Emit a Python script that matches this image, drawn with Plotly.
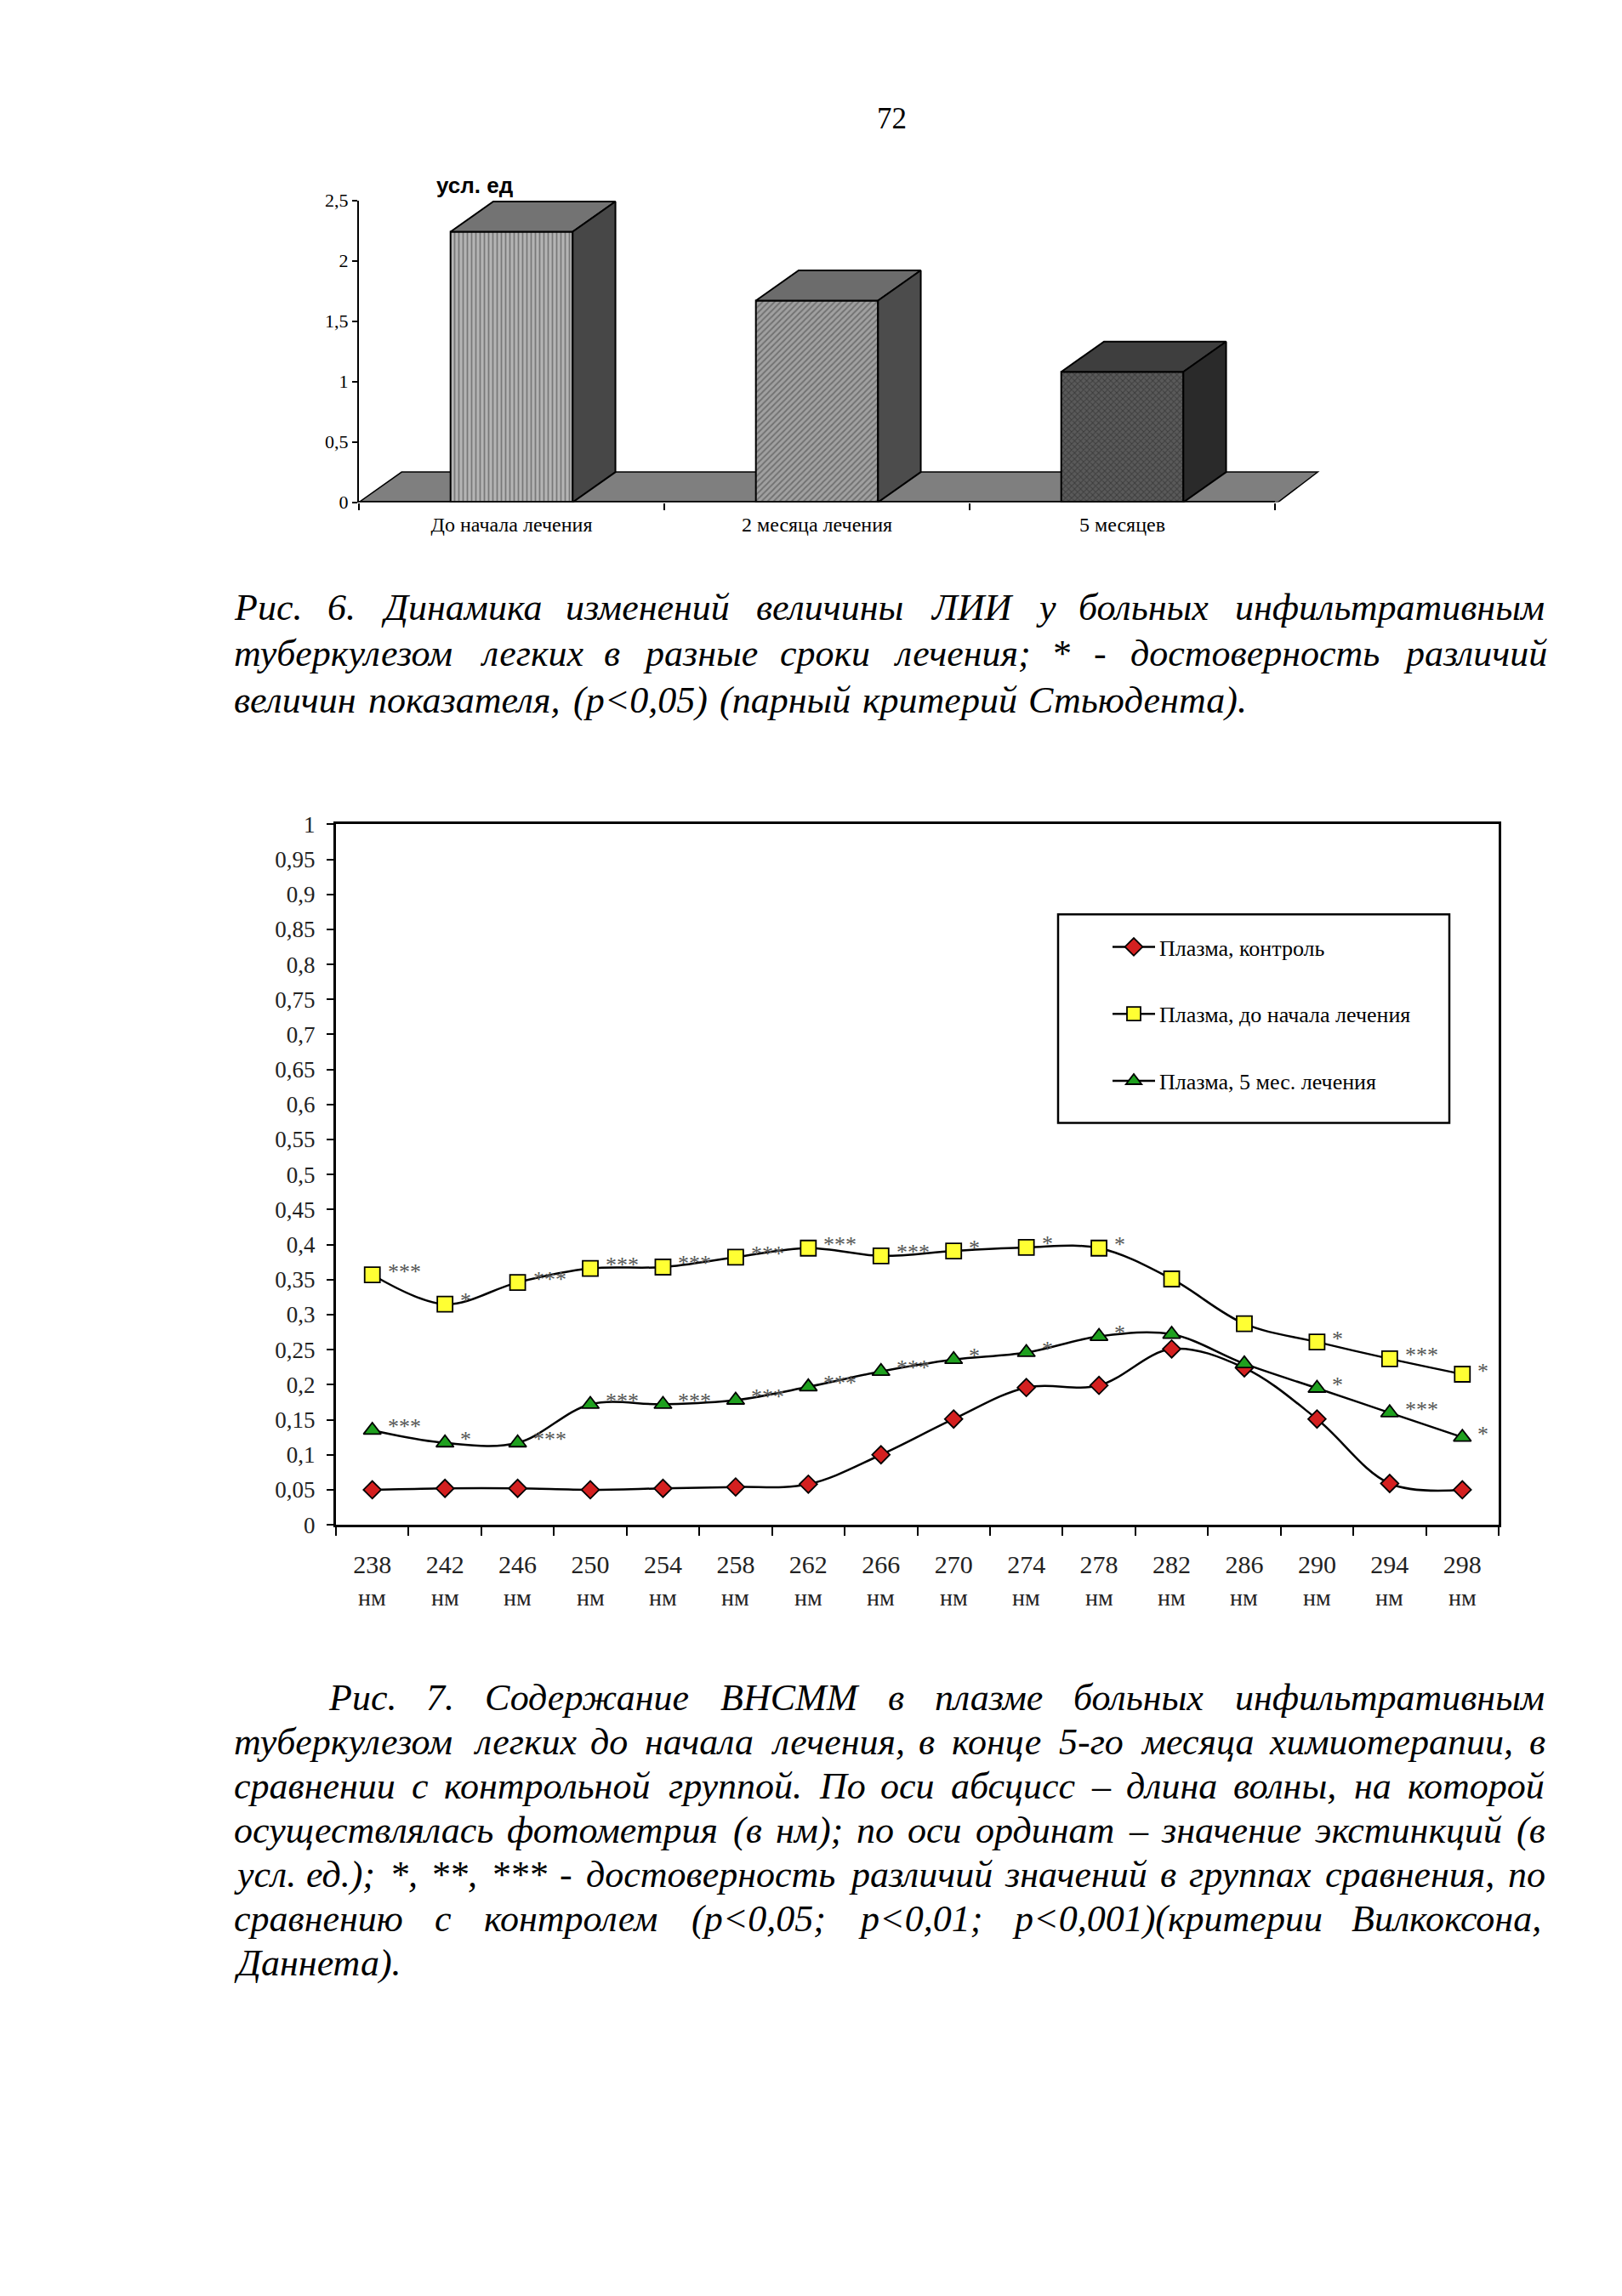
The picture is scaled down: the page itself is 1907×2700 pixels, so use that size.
import struct, glob
import plotly.graph_objects as go

W, H = 1907, 2700

# ---------------- data ----------------
bar_categories = ["До начала лечения", "2 месяца лечения", "5 месяцев"]
bar_values = [2.24, 1.67, 1.08]
bar_yticks = [0, 0.5, 1, 1.5, 2, 2.5]
bar_yticktext = ["0", "0,5", "1", "1,5", "2", "2,5"]

wavelengths = ["238", "242", "246", "250", "254", "258", "262", "266",
               "270", "274", "278", "282", "286", "290", "294", "298"]
control = [0.050, 0.052, 0.052, 0.050, 0.052, 0.054, 0.058, 0.100,
           0.151, 0.196, 0.199, 0.251, 0.224, 0.151, 0.059, 0.050]
before = [0.357, 0.315, 0.346, 0.366, 0.368, 0.382, 0.395, 0.384,
          0.391, 0.396, 0.395, 0.351, 0.287, 0.261, 0.237, 0.215]
after5 = [0.135, 0.117, 0.117, 0.172, 0.172, 0.178, 0.197, 0.219,
          0.236, 0.246, 0.269, 0.272, 0.230, 0.195, 0.160, 0.125]
stars_before = ["***", "*", "***", "***", "***", "***", "***", "***",
                "*", "*", "*", "", "", "*", "***", "*"]
stars_after5 = ["***", "*", "***", "***", "***", "***", "***", "***",
                "*", "*", "*", "", "", "*", "***", "*"]
line_yticks = [0, 0.05, 0.1, 0.15, 0.2, 0.25, 0.3, 0.35, 0.4, 0.45, 0.5,
               0.55, 0.6, 0.65, 0.7, 0.75, 0.8, 0.85, 0.9, 0.95, 1]
unit_label = "нм"
series_names = ["Плазма, контроль", "Плазма, до начала лечения", "Плазма, 5 мес. лечения"]

caption1 = [
    ("Рис. 6. Динамика изменений величины ЛИИ у больных инфильтративным", True),
    ("туберкулезом легких в разные сроки лечения; * - достоверность различий", True),
    ("величин показателя, (p<0,05) (парный критерий Стьюдента).", False),
]
caption2 = [
    ("Рис. 7. Содержание ВНСММ в плазме больных инфильтративным", True),
    ("туберкулезом легких до начала лечения, в конце 5-го месяца химиотерапии, в", True),
    ("сравнении с контрольной группой. По оси абсцисс – длина волны, на которой", True),
    ("осуществлялась фотометрия (в нм); по оси ординат – значение экстинкций (в", True),
    ("усл. ед.); *, **, *** - достоверность различий значений в группах сравнения, по", True),
    ("сравнению с контролем (p<0,05; p<0,01; p<0,001)(критерии Вилкоксона,", True),
    ("Даннета).", False),
]

# ---------------- text width measurement ----------------
def load_ttf_widths(path):
    data = open(path, 'rb').read()
    n = struct.unpack('>H', data[4:6])[0]
    tables = {}
    for i in range(n):
        tag, cs, off, ln = struct.unpack('>4sIII', data[12 + 16 * i:28 + 16 * i])
        tables[tag.decode('latin1')] = off
    head = tables['head']
    upem = struct.unpack('>H', data[head + 18:head + 20])[0]
    hhea = tables['hhea']
    nhm = struct.unpack('>H', data[hhea + 34:hhea + 36])[0]
    hmtx = tables['hmtx']
    adv = [struct.unpack('>H', data[hmtx + 4 * i:hmtx + 4 * i + 2])[0] for i in range(nhm)]
    cm = tables['cmap']
    nsub = struct.unpack('>H', data[cm + 2:cm + 4])[0]
    mapping = {}
    for i in range(nsub):
        pid, eid, off = struct.unpack('>HHI', data[cm + 4 + 8 * i:cm + 12 + 8 * i])
        st = cm + off
        fmt = struct.unpack('>H', data[st:st + 2])[0]
        if fmt == 4 and pid in (0, 3):
            segx2 = struct.unpack('>H', data[st + 6:st + 8])[0]
            seg = segx2 // 2
            ends = struct.unpack('>%dH' % seg, data[st + 14:st + 14 + segx2])
            starts = struct.unpack('>%dH' % seg, data[st + 16 + segx2:st + 16 + 2 * segx2])
            deltas = struct.unpack('>%dh' % seg, data[st + 16 + 2 * segx2:st + 16 + 3 * segx2])
            rpos = st + 16 + 3 * segx2
            roffs = struct.unpack('>%dH' % seg, data[rpos:rpos + segx2])
            for k in range(seg):
                for c in range(starts[k], ends[k] + 1):
                    if c == 0xFFFF:
                        continue
                    if roffs[k] == 0:
                        g = (c + deltas[k]) & 0xFFFF
                    else:
                        addr = rpos + 2 * k + roffs[k] + 2 * (c - starts[k])
                        g = struct.unpack('>H', data[addr:addr + 2])[0]
                        if g:
                            g = (g + deltas[k]) & 0xFFFF
                    mapping[c] = g
            break

    def width(ch):
        g = mapping.get(ord(ch), 0)
        a = adv[g] if g < len(adv) else adv[-1]
        return a / upem
    return width


char_w = None
for p in glob.glob('/usr/share/fonts/**/LiberationSerif-Italic.ttf', recursive=True):
    try:
        char_w = load_ttf_widths(p)
        break
    except Exception:
        char_w = None
if char_w is None:
    def char_w(ch):
        if ch == ' ':
            return 0.25
        if ch in ',.;:()-*':
            return 0.3
        if ch.isupper():
            return 0.65
        return 0.5


def text_w(s, fs):
    return sum(char_w(c) for c in s) * fs


def esc(s):
    return s.replace('&', '&amp;').replace('<', '&lt;').replace('>', '&gt;')


def px(x):
    return x / W


def py(y):
    return 1 - y / H


annotations = []
CAP_FS = 44


def add_caption(lines, y0, dy, left, right, indent):
    for i, (txt, justify) in enumerate(lines):
        xl = left + (indent if i == 0 else 0)
        words = txt.split(' ')
        widths = [text_w(w, CAP_FS) for w in words]
        if justify and len(words) > 1:
            gap = (right - xl - sum(widths)) / (len(words) - 1)
        else:
            gap = text_w(' ', CAP_FS) + 2.5
        x = xl
        for w, wd in zip(words, widths):
            annotations.append(dict(
                text=esc(w), x=px(x), y=py(y0 + i * dy), xref='paper', yref='paper',
                xanchor='left', yanchor='middle', showarrow=False, borderpad=0,
                font=dict(family='Liberation Serif', size=CAP_FS, style='italic', color='black')))
            x += wd + gap


add_caption(caption1, 699, 55, 266, 1808, 0)
add_caption(caption2, 1996, 52.5, 266, 1808, 111)

# page number
annotations.append(dict(text="72", x=px(1040), y=py(118), xref='paper', yref='paper',
                        xanchor='center', yanchor='middle', showarrow=False,
                        font=dict(family='Liberation Serif', size=35, color='black')))
# unit label of bar chart
annotations.append(dict(text="<b>усл. ед</b>", x=px(550), y=py(197), xref='paper', yref='paper',
                        xanchor='center', yanchor='middle', showarrow=False,
                        font=dict(family='Liberation Sans', size=26, color='black')))

fig = go.Figure()

# ---------------- bar chart (pseudo 3D) ----------------
BW = 0.4
DX, DY = 0.14, 0.25
BAR_LEFT, BAR_CAT = 414, 359
front_fills = [("|", "#b4b4b4", "#3c3c3c"), ("/", "#a0a0a0", "#404040"), ("x", "#5a5a5a", "#1e1e1e")]
top_cols = ["#737373", "#6c6c6c", "#3e3e3e"]
side_cols = ["#474747", "#4c4c4c", "#2a2a2a"]
xs = list(range(len(bar_values)))
for i, v in enumerate(bar_values):
    shp, bg, fg = front_fills[i]
    fig.add_trace(go.Bar(x=[xs[i]], y=[v], width=BW, xaxis='x', yaxis='y', showlegend=False,
                         marker=dict(color=bg, line=dict(color='black', width=2),
                                     pattern=dict(shape=shp, fgcolor=fg, bgcolor=bg, size=5, solidity=0.35)),
                         hoverinfo='skip'))
for i, v in enumerate(bar_values):
    x0, x1 = xs[i] - BW / 2, xs[i] + BW / 2
    fig.add_trace(go.Scatter(x=[x0, x1, x1 + DX, x0 + DX, x0], y=[v, v, v + DY, v + DY, v],
                             fill='toself', fillcolor=top_cols[i], mode='lines',
                             line=dict(color='black', width=2), xaxis='x', yaxis='y',
                             showlegend=False, hoverinfo='skip'))
    fig.add_trace(go.Scatter(x=[x1, x1 + DX, x1 + DX, x1, x1], y=[0, DY, v + DY, v, 0],
                             fill='toself', fillcolor=side_cols[i], mode='lines',
                             line=dict(color='black', width=2), xaxis='x', yaxis='y',
                             showlegend=False, hoverinfo='skip'))

n_cat = len(bar_values)
shapes = [
    dict(type='path', xref='x', yref='y', layer='below',
         path=f"M -0.5 0 L {n_cat - 0.5 + 0.01} 0 L {n_cat - 0.5 + DX} {DY} L {-0.5 + DX} {DY} Z",
         fillcolor='#7f7f7f', line=dict(color='black', width=1.5)),
    dict(type='line', xref='x', yref='y', x0=-0.5, x1=n_cat - 0.5, y0=0, y1=0,
         line=dict(color='black', width=3)),
    dict(type='rect', xref='paper', yref='paper', x0=px(1236), x1=px(1696), y0=py(1312), y1=py(1064),
         line=dict(color='black', width=2.5)),
]

# ---------------- line chart ----------------
styles = [
    (control, 'diamond', '#d42020', 16),
    (before, 'square', '#ffff33', 18),
    (after5, 'triangle-up', '#1fa01f', 18),
]
for k, (vals, sym, col, sz) in enumerate(styles):
    fig.add_trace(go.Scatter(
        x=wavelengths, y=vals, name=series_names[k], xaxis='x2', yaxis='y2',
        mode='lines+markers', legendgroup=str(k),
        line=dict(color='black', width=2.5, shape='spline', smoothing=1),
        marker=dict(symbol=sym, color=col, size=sz, line=dict(color='black', width=1.8))))

for vals, stars in ((before, stars_before), (after5, stars_after5)):
    for i, (v, s) in enumerate(zip(vals, stars)):
        if s:
            annotations.append(dict(text=s, x=i, y=v, xref='x2', yref='y2', xanchor='left',
                                    yanchor='middle', xshift=16, yshift=4, showarrow=False,
                                    font=dict(family='Liberation Serif', size=26, color='#555555')))

for i, c in enumerate(wavelengths):
    annotations.append(dict(text=unit_label, x=i, y=py(1876), xref='x2', yref='paper',
                            xanchor='center', yanchor='middle', showarrow=False,
                            font=dict(family='Liberation Serif', size=28, color='#222')))

y_ticktext = [f"{v:g}".replace('.', ',') for v in line_yticks]

fig.update_layout(
    width=W, height=H, margin=dict(l=0, r=0, t=0, b=0),
    paper_bgcolor='white', plot_bgcolor='white',
    font=dict(family='Liberation Serif', color='black'),
    barmode='overlay',
    xaxis=dict(domain=[px(BAR_LEFT), px(BAR_LEFT + 3.15 * BAR_CAT)], range=[-0.5, 2.65], anchor='y',
               tickmode='array', tickvals=xs, ticktext=bar_categories, ticks='',
               showline=False, showgrid=False, zeroline=False,
               tickfont=dict(family='Liberation Serif', size=24, color='black'),
               ticklabelstandoff=9,
               minor=dict(tickmode='array', tickvals=[-0.5, 0.5, 1.5, 2.5], ticks='outside',
                          ticklen=8, tickwidth=2, tickcolor='black', showgrid=False)),
    yaxis=dict(domain=[py(574), py(215)], range=[0, 2.5], anchor='x',
               tickmode='array', tickvals=bar_yticks, ticktext=bar_yticktext,
               ticks='outside', ticklen=6, tickwidth=2, tickcolor='black',
               showline=True, linewidth=2, linecolor='black', showgrid=False, zeroline=False,
               tickfont=dict(family='Liberation Serif', size=22, color='black')),
    xaxis2=dict(domain=[px(387), px(1754)], anchor='y2', type='category',
                categoryorder='array', categoryarray=wavelengths, range=[-0.5, len(wavelengths) - 0.5],
                tickmode='array', tickvals=wavelengths, ticktext=wavelengths, tickson='boundaries',
                ticks='outside', ticklen=10, tickwidth=2, tickcolor='black',
                showline=True, linewidth=3, linecolor='black', mirror=True, showgrid=False,
                zeroline=False, tickfont=dict(family='Liberation Serif', size=30, color='#222'),
                ticklabelstandoff=18),
    yaxis2=dict(domain=[py(1790), py(957)], anchor='x2', range=[0, 1],
                tickmode='array', tickvals=line_yticks, ticktext=y_ticktext,
                ticks='outside', ticklen=8, tickwidth=2, tickcolor='black',
                showline=True, linewidth=3, linecolor='black', mirror=True, showgrid=False,
                zeroline=False, tickfont=dict(family='Liberation Serif', size=27, color='#222'),
                ticklabelstandoff=8),
    legend=dict(x=px(1295), y=py(1079), xanchor='left', yanchor='top', bgcolor='rgba(0,0,0,0)',
                borderwidth=0, traceorder='grouped', tracegroupgap=42, itemwidth=50,
                font=dict(family='Liberation Serif', size=26, color='black')),
    shapes=shapes,
    annotations=annotations,
)

fig.write_html("out.html")
